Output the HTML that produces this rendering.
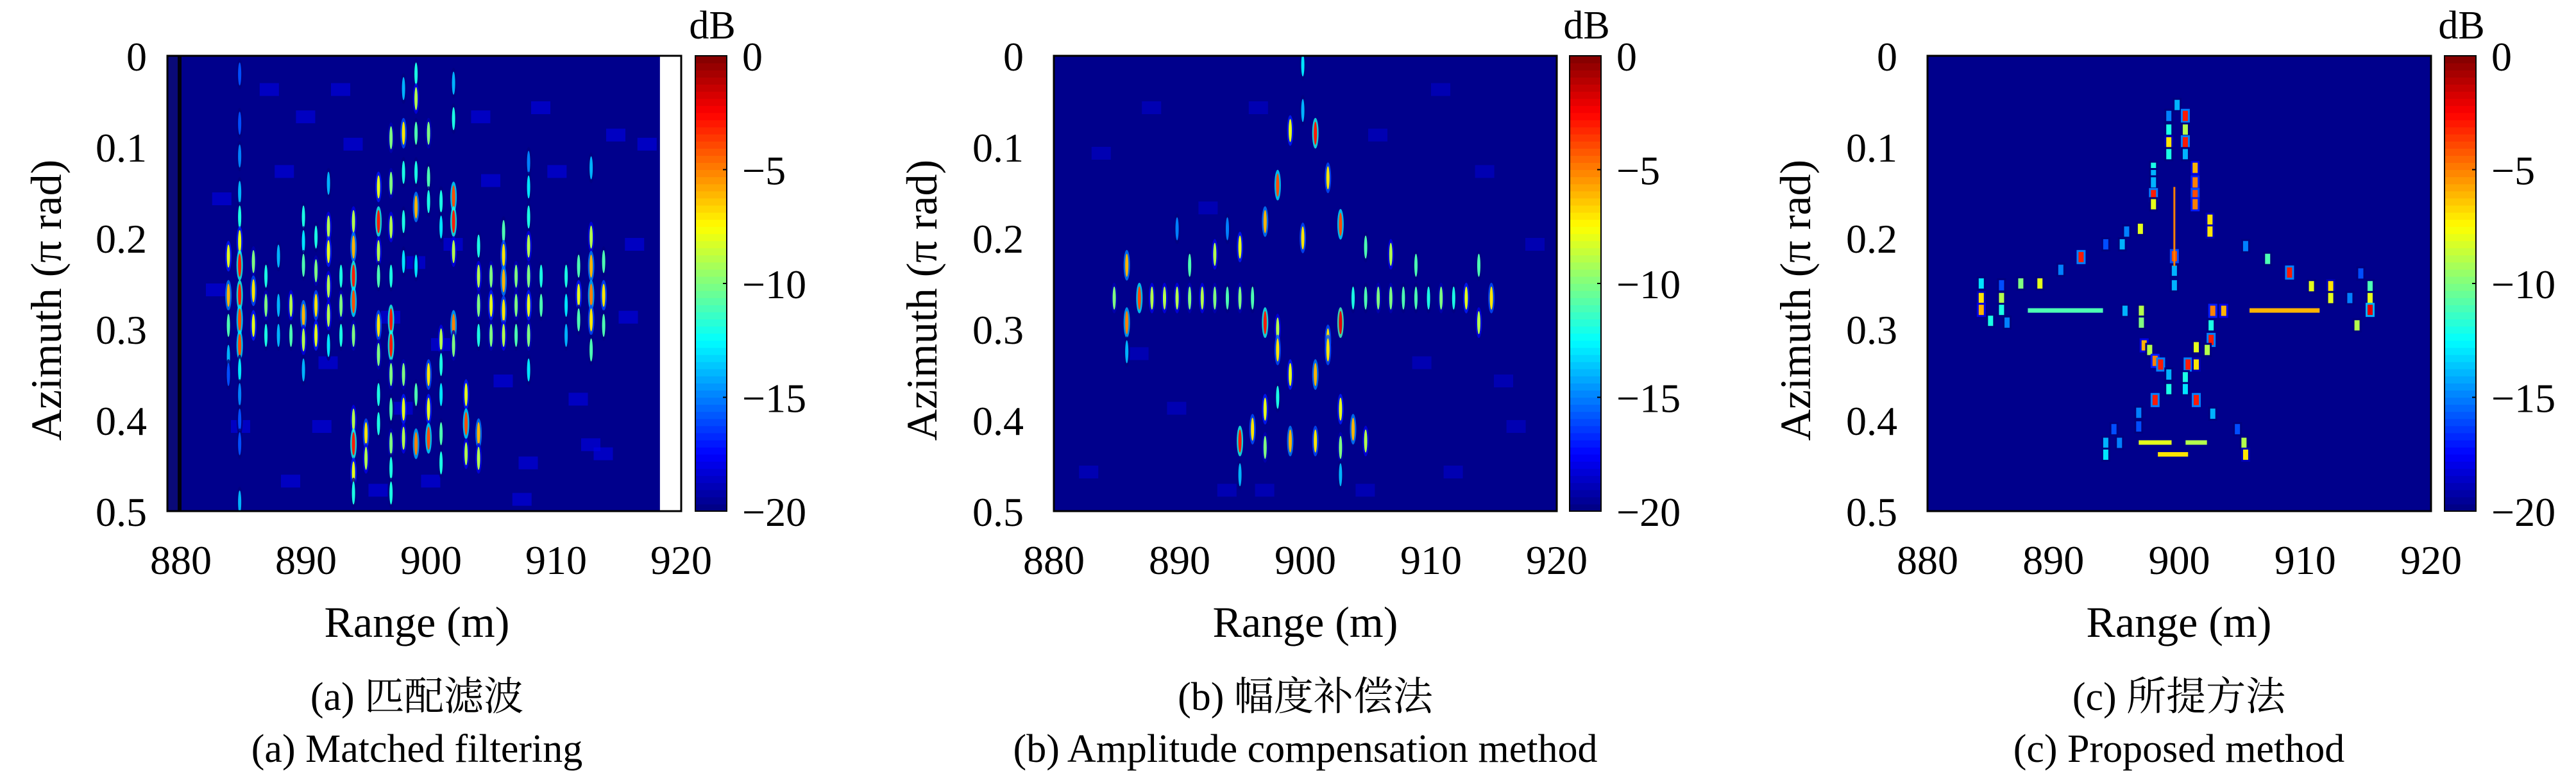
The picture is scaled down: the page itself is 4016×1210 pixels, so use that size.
<!DOCTYPE html>
<html><head><meta charset="utf-8">
<style>
html,body{margin:0;padding:0;background:#fff;}
body{width:4016px;height:1205px;overflow:hidden;font-family:"Liberation Serif","DejaVu Serif",serif;}
svg text{font-family:"Liberation Serif","DejaVu Serif","Noto Serif CJK SC",serif;fill:#000;}
</style></head>
<body>
<svg id="fig" width="4016" height="1205" viewBox="0 0 4016 1205" xmlns="http://www.w3.org/2000/svg" font-family="'Liberation Serif', 'DejaVu Serif', 'Noto Serif CJK SC', serif"></svg>
<script>
// ---------- data ----------
const xTicks = [880, 890, 900, 910, 920];
const yTicks = [0, 0.1, 0.2, 0.3, 0.4, 0.5];
const yTickLabels = ["0", "0.1", "0.2", "0.3", "0.4", "0.5"];
const cbTicks = [0, -5, -10, -15, -20];
const cbTickLabels = ["0", "\u22125", "\u221210", "\u221215", "\u221220"];
const titlesCN = ["(a) 匹配滤波", "(b) 幅度补偿法", "(c) 所提方法"];
const titlesEN = ["(a) Matched filtering", "(b) Amplitude compensation method", "(c) Proposed method"];

// Panel (a) matched filtering: [range m, azimuth pi rad, dB]
const aRange = [884.7,884.7,884.7,884.7,884.7,884.7,884.7,884.7,884.7,884.7,884.7,884.7,884.7,884.7,884.7,
 883.8,883.8,883.8,883.8,883.8, 885.8,885.8,885.8, 886.8,886.8,886.8, 887.8,887.8,887.8, 888.8,888.8,
 889.8,889.8,889.8,889.8,889.8,889.8, 890.8,890.8,890.8,890.8, 891.8,891.8,891.8,891.8,891.8,891.8,
 892.8,892.8,892.8, 893.8,893.8,893.8,893.8,893.8,893.8,893.8,893.8,893.8, 894.8,894.8,
 895.8,895.8,895.8,895.8,895.8,895.8,895.8,895.8, 896.8,896.8,896.8,896.8,896.8,896.8,896.8,896.8,896.8,896.8,896.8,
 897.8,897.8,897.8,897.8,897.8,897.8,897.8,897.8, 898.8,898.8,898.8,898.8,898.8,898.8,898.8,898.8,
 899.8,899.8,899.8,899.8,899.8,899.8, 900.8,900.8,900.8,900.8,900.8,900.8,900.8,
 901.8,901.8,901.8,901.8,901.8,901.8,901.8, 902.8,902.8,902.8, 903.8,903.8,903.8,903.8,903.8,903.8,
 904.8,904.8,904.8, 905.8,905.8,905.8,905.8,905.8, 906.8,906.8,906.8,
 907.8,907.8,907.8,907.8,907.8,907.8,907.8,907.8, 908.8,908.8, 910.8,910.8,910.8, 911.8,911.8,911.8,
 912.8,912.8,912.8,912.8,912.8,912.8, 913.8,913.8,913.8];
const aAz = [0.02,0.074,0.11,0.15,0.177,0.204,0.23,0.263,0.29,0.318,0.345,0.372,0.4,0.426,0.49,
 0.22,0.263,0.296,0.33,0.35, 0.226,0.258,0.296, 0.242,0.274,0.307, 0.22,0.274,0.307, 0.274,0.307,
 0.177,0.204,0.23,0.285,0.312,0.345, 0.199,0.236,0.274,0.307, 0.14,0.188,0.215,0.253,0.285,0.318,
 0.242,0.274,0.307, 0.182,0.21,0.242,0.27,0.307,0.4,0.426,0.458,0.48, 0.415,0.442,
 0.144,0.182,0.215,0.242,0.296,0.328,0.372,0.404, 0.09,0.14,0.188,0.242,0.29,0.318,0.35,0.388,0.426,0.453,0.48,
 0.036,0.085,0.128,0.182,0.226,0.35,0.388,0.42, 0.02,0.047,0.085,0.128,0.166,0.231,0.372,0.426,
 0.085,0.134,0.16,0.35,0.388,0.42, 0.16,0.188,0.312,0.339,0.372,0.415,0.447,
 0.03,0.069,0.155,0.182,0.215,0.296,0.318, 0.372,0.404,0.437, 0.209,0.242,0.274,0.307,0.415,0.442,
 0.242,0.274,0.307, 0.193,0.219,0.247,0.28,0.307, 0.242,0.274,0.307,
 0.117,0.144,0.177,0.209,0.242,0.274,0.307,0.345, 0.242,0.274, 0.242,0.274,0.307, 0.231,0.263,0.29,
 0.123,0.199,0.231,0.263,0.29,0.323, 0.226,0.263,0.296];
const aVal = [-16,-16,-15,-14,-12,-8,-3,-3,-4,-4,-13,-15,-16,-16,-14,
 -8,-6,-11,-14,-16, -10,-7,-8, -12,-10,-12, -14,-14,-14, -9,-11,
 -12,-13,-11,-6,-9,-14, -12,-10,-7,-8, -14,-9,-8,-9,-9,-13,
 -12,-10,-12, -9,-6,-3,-4,-10,-9,-3,-8,-12, -7,-9,
 -8,-3,-9,-11,-7,-10,-12,-12, -10,-10,-9,-12,-3,-3,-10,-11,-10,-12,-12,
 -14,-7,-12,-12,-13,-10,-8,-9, -12,-9,-11,-12,-6,-13,-11,-5,
 -10,-11,-12,-7,-8,-4, -12,-13,-9,-12,-13,-11,-12,
 -14,-12,-4,-3,-9,-5,-10, -8,-4,-9, -12,-9,-10,-12,-6,-9,
 -10,-8,-10, -11,-7,-6,-7,-9, -10,-10,-11,
 -15,-13,-12,-9,-10,-8,-10,-13, -12,-11, -12,-13,-14, -11,-8,-11,
 -14,-9,-6,-5,-7,-11, -11,-7,-11];
// Panel (a) background clutter blocks [range, az]
const aNoiseR = [882.5,886.3,887.5,889.2,891.0,893.0,895.0,897.0,899.2,901.0,903.2,905.0,907.0,909.3,911.0,913.0,915.0,916.5,884.0,888.0,892.0,896.0,900.0,904.0,908.0,912.0,915.5,882.0,890.5,898.0,906.5,914.0];
const aNoiseA = [0.15,0.03,0.12,0.06,0.33,0.09,0.47,0.38,0.46,0.2,0.06,0.35,0.44,0.12,0.37,0.43,0.28,0.09,0.4,0.46,0.03,0.28,0.31,0.13,0.05,0.42,0.2,0.25,0.4,0.22,0.48,0.08];

// Panel (b) amplitude compensation
const bRange = [899.8,899.8,899.8, 898.8,900.8, 897.8,901.8, 896.8,902.8, 894.8,892.8,890.8,885.8,904.8,906.8,908.8,913.8,
 884.8,886.8,887.8,888.8,889.8,890.8,891.8,892.8,893.8,894.8,895.8,903.8,904.8,905.8,906.8,907.8,908.8,909.8,910.8,911.8,912.8,914.8,
 885.8,896.8,902.8,897.8,901.8,913.8, 897.8,901.8, 898.8,900.8, 896.8,902.8,897.8, 895.8,903.8, 894.8,898.8,900.8,904.8,896.8,902.8,
 885.8,894.8,902.8,889.8,893.8];
const bAz = [0.01,0.06,0.2, 0.082,0.085, 0.142,0.134, 0.182,0.185, 0.21,0.218,0.23,0.23,0.21,0.218,0.23,0.23,
 0.266,0.266,0.266,0.266,0.266,0.266,0.266,0.266,0.266,0.266,0.266,0.266,0.266,0.266,0.266,0.266,0.266,0.266,0.266,0.266,0.266,0.266,
 0.293,0.293,0.293,0.3,0.312,0.293, 0.323,0.323, 0.35,0.35, 0.388,0.388,0.375, 0.41,0.41, 0.423,0.423,0.423,0.423,0.43,0.43,
 0.325,0.46,0.46,0.19,0.19];
const bVal = [-13,-14,-7, -8,-3, -4,-7, -6,-4, -8,-9,-11,-6,-11,-9,-11,-11,
 -10,-4,-9,-9,-9,-10,-9,-10,-11,-10,-11,-12,-11,-10,-10,-11,-11,-12,-10,-12,-8,-7,
 -5,-3,-2,-9,-7,-9, -7,-7, -8,-6, -8,-8,-12, -7,-6, -3,-6,-7,-9,-10,-10,
 -14,-14,-14,-15,-15];
const bNoiseR = [883.0,887.0,889.0,891.5,893.0,895.5,905.0,908.5,911.0,913.5,916.0,917.5,882.0,886.0,910.0,915.0,896.0,904.0];
const bNoiseA = [0.1,0.05,0.38,0.16,0.47,0.05,0.08,0.33,0.45,0.12,0.4,0.2,0.45,0.32,0.03,0.35,0.47,0.47];

// Panel (c) proposed method: small pixels [range, az, dB]
const cRange = [899.83,899.17,900.48,899.17,900.48,899.17,900.48,899.17,900.48,
 897.95,901.26,897.95,897.95,901.26,897.95,901.26,897.95,901.26,902.44,902.44,899.61,899.61,899.61,
 896.91,895.82,895.47,894.16,892.20,890.59,888.93,887.41,885.88,884.27,884.27,884.27,885.88,885.88,885.01,886.32,
 905.27,907.02,908.76,910.50,912.03,912.03,913.55,915.16,915.16,915.16,914.12,914.42,
 895.69,896.99,896.99,902.66,903.53,902.53,902.53,
 897.21,897.65,898.08,898.52,901.35,902.22,900.70,901.35,899.17,900.48,899.17,900.48,898.08,901.35,896.78,902.66,896.78,894.81,904.62,
 894.16,895.25,905.14,894.16,905.27];
const cAz = [0.054,0.066,0.066,0.081,0.081,0.095,0.095,0.108,0.108,
 0.123,0.123,0.131,0.139,0.139,0.153,0.153,0.163,0.163,0.18,0.193,0.22,0.236,0.252,
 0.19,0.193,0.207,0.207,0.221,0.235,0.25,0.25,0.252,0.25,0.266,0.279,0.266,0.279,0.291,0.293,
 0.209,0.223,0.238,0.253,0.253,0.266,0.266,0.253,0.266,0.279,0.296,0.239,
 0.28,0.28,0.293,0.28,0.28,0.296,0.312,
 0.318,0.323,0.335,0.339,0.32,0.323,0.339,0.339,0.35,0.353,0.366,0.366,0.378,0.378,0.392,0.393,0.407,0.41,0.41,
 0.425,0.425,0.425,0.438,0.438];
const cVal = [-14,-15,-3,-12,-9,-7,-3,-12,-14,
 -12,-6,-14,-14,-5,-3,-4,-8,-5,-7,-7,-4,-14,-14,
 -8,-15,-14,-16,-3,-15,-8,-10,-16,-13,-7,-6,-9,-12,-12,-15,
 -15,-11,-3,-8,-7,-8,-15,-11,-8,-2,-9,-16,
 -14,-9,-10,-5,-6,-12,-3,
 -6,-9,-5,-3,-8,-9,-3,-7,-14,-12,-12,-13,-3,-3,-15,-14,-16,-16,-16,
 -14,-15,-9,-13,-7];
// Panel (c) horizontal streaks: start range, end range, az, dB
const cBarStart = [887.97, 905.58, 896.78, 900.5, 898.3];
const cBarEnd   = [893.94, 911.15, 899.39, 902.2, 900.7];
const cBarAz    = [0.28, 0.28, 0.425, 0.425, 0.438];
const cBarVal   = [-11, -6, -8, -9, -7];

// ---------- layout ----------
const Y0 = 87, Y1 = 797;
const panels = [
  {key:'a', boxL:261, x0:282, x1:1062, cbL:1084, cbR:1133, ytx:229, ylx:73, cx:650},
  {key:'b', boxL:1643, x0:1643, x1:2427, cbL:2447, cbR:2496, ytx:1596, ylx:1438, cx:2035},
  {key:'c', boxL:3005, x0:3005, x1:3790, cbL:3811, cbR:3860, ytx:2958, ylx:2800, cx:3397}
];
const FONT = "'Liberation Serif', 'DejaVu Serif', 'Noto Serif CJK SC', serif";
const NS = 'http://www.w3.org/2000/svg';
const svg = document.getElementById('fig');
function mk(tag, attrs, parent){
  const e = document.createElementNS(NS, tag);
  for (const k in attrs) e.setAttribute(k, attrs[k]);
  if (tag === 'text') e.setAttribute('font-family', FONT);
  (parent || svg).appendChild(e);
  return e;
}
function clamp(v){return Math.max(0, Math.min(1, v));}
function jet(db){
  const t = clamp((db + 20) / 20);
  const r = clamp(1.5 - Math.abs(4*t - 3));
  const g = clamp(1.5 - Math.abs(4*t - 2));
  const b = clamp(1.5 - Math.abs(4*t - 1));
  return 'rgb(' + Math.round(r*255) + ',' + Math.round(g*255) + ',' + Math.round(b*255) + ')';
}
function sx(p, r){ return p.x0 + (r - 880) / 40 * (p.x1 - p.x0); }
function sy(a){ return Y0 + a / 0.5 * (Y1 - Y0); }

panels.forEach((p, i) => {
  const g = mk('g', {});
  
  
  const defs = mk('defs', {}, g);
  const clip = mk('clipPath', {id:'clip' + p.key}, defs);
  mk('rect', {x:p.boxL, y:Y0, width:p.x1 - p.boxL, height:Y1 - Y0}, clip);
  const plot = mk('g', {'clip-path':'url(#clip' + p.key + ')'}, g);
  
  
  mk('rect', {x:p.boxL, y:Y0, width:p.x1 - p.boxL, height:Y1 - Y0, fill:'rgb(0,0,140)'}, plot);

  if (p.key === 'a') {
    mk('rect', {x:261, y:Y0, width:16, height:Y1-Y0, fill:'rgb(10,10,120)'}, plot);
    mk('rect', {x:277, y:Y0, width:6, height:Y1-Y0, fill:'#000010'}, plot);
    mk('rect', {x:sx(p, 918.3), y:Y0, width:p.x1 - sx(p, 918.3), height:Y1-Y0, fill:'#fff'}, plot);
  }
  function noise(R, A, db){
    R.forEach((r, k) => {
      const n = mk('rect', {x:sx(p, r), y:sy(A[k]), width:30, height:20, fill:jet(db), opacity:0.6}, plot);
      
      
    });
  }
  function blobs(R, A, V){
    R.forEach((r, k) => {
      const cx = sx(p, r), cy = sy(A[k]), v = V[k];
      const o = mk('ellipse', {cx:cx, cy:cy, rx:5, ry:24, fill:jet(v - 9), opacity:0.8}, plot);
      
      
      const e = mk('ellipse', {cx:cx, cy:cy, rx:2.5, ry:18, fill:jet(v)}, plot);
      
      
    });
  }
  if (p.key === 'a') { noise(aNoiseR, aNoiseA, -18); blobs(aRange, aAz, aVal); }
  if (p.key === 'b') { noise(bNoiseR, bNoiseA, -18.5); blobs(bRange, bAz, bVal); }
  if (p.key === 'c') {
    cRange.forEach((r, k) => {
      const cx = sx(p, r), cy = sy(cAz[k]);
      mk('rect', {x:cx - 7, y:cy - 11, width:14, height:22, fill:jet(cVal[k] - 12)}, plot);
      const c = mk('rect', {x:cx - 4, y:cy - 8, width:8, height:16, fill:jet(cVal[k])}, plot);
      
      
    });
    cBarStart.forEach((s, k) => {
      const xa = sx(p, s), xb = sx(p, cBarEnd[k]);
      const b = mk('rect', {x:xa, y:sy(cBarAz[k]) - 4, width:xb - xa, height:7, fill:jet(cBarVal[k])}, plot);
      
      
    });
    mk('line', {x1:sx(p, 899.61), y1:sy(0.144), x2:sx(p, 899.61), y2:sy(0.231), stroke:jet(-5), 'stroke-width':3}, plot);
  }
  const box = mk('rect', {x:p.boxL, y:Y0, width:p.x1 - p.boxL, height:Y1 - Y0, fill:'none', stroke:'#000', 'stroke-width':3}, g);
  
  

  xTicks.forEach(t => {
    const tx = mk('text', {x:sx(p, t), y:895, 'font-size':64, 'text-anchor':'middle'}, g);
    tx.textContent = String(t);
    
    
  });
  yTicks.forEach((t, k) => {
    const ty = mk('text', {x:p.ytx, y:sy(t) + 23, 'font-size':64, 'text-anchor':'end'}, g);
    ty.textContent = yTickLabels[k];
    
    
  });
  const xl = mk('text', {x:p.cx, y:993, 'font-size':68, 'text-anchor':'middle'}, g);
  xl.textContent = 'Range (m)';
  
  
  const yl = mk('text', {x:p.ylx, y:446, 'font-size':68, 'text-anchor':'middle', transform:'rotate(-90 ' + (p.ylx + 22) + ' 446)'}, g);
  yl.textContent = 'Azimuth (\u03C0 rad)';
  
  

  const cb = mk('g', {}, g);
  
  
  const nb = 64, h = (Y1 - Y0) / nb;
  for (let k = 0; k < nb; k++) {
    const db = -20 + 20 * (k + 0.5) / nb;
    mk('rect', {x:p.cbL, y:Y1 - (k + 1) * h, width:p.cbR - p.cbL, height:h + 0.6, fill:jet(db)}, cb);
  }
  mk('rect', {x:p.cbL, y:Y0, width:p.cbR - p.cbL, height:Y1 - Y0, fill:'none', stroke:'#000', 'stroke-width':2}, cb);
  cbTicks.forEach((t, k) => {
    const yy = Y0 + (-t) / 20 * (Y1 - Y0);
    mk('line', {x1:p.cbR - 6, y1:yy, x2:p.cbR, y2:yy, stroke:'#000', 'stroke-width':2}, cb);
    const l = mk('text', {x:p.cbR + 24, y:yy + 23, 'font-size':64}, cb);
    l.textContent = cbTickLabels[k];
    
    
  });
  const db = mk('text', {x:(p.cbL + p.cbR) / 2 + 2, y:60, 'font-size':62, 'text-anchor':'middle'}, cb);
  db.textContent = 'dB';
  
  

  const t1 = mk('text', {x:p.cx, y:1107, 'font-size':62, 'text-anchor':'middle'}, g);
  t1.textContent = titlesCN[i];
  
  
  const t2 = mk('text', {x:p.cx, y:1188, 'font-size':62, 'text-anchor':'middle'}, g);
  t2.textContent = titlesEN[i];
  
  
});
</script>
</body></html>
